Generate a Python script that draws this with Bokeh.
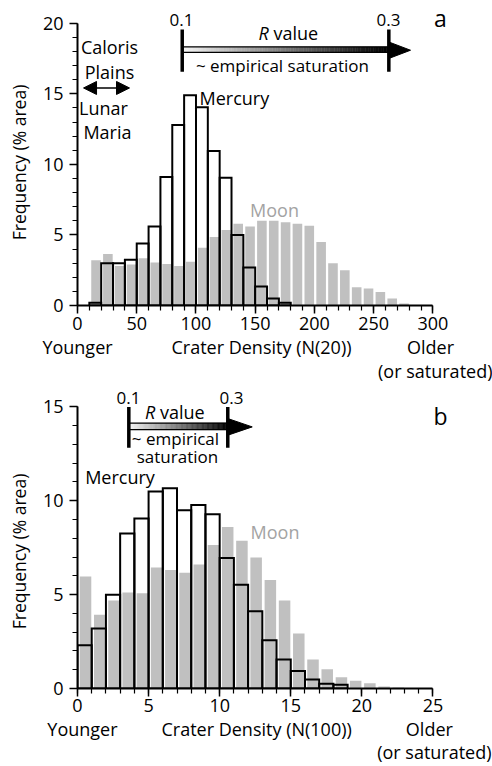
import numpy as np
from bokeh.plotting import figure
from bokeh.models import (Label, Arrow, NormalHead, SingleIntervalTicker, FixedTicker,
                          Range1d, LinearAxis)
from bokeh.layouts import column
from bokeh.embed import file_html
from bokeh.resources import INLINE

FONT = "Open Sans"
MOON_GRAY = "#c0c0c0"
MOON_TEXT = "#a3a3a3"

# ---------------- Panel a : Crater Density N(20), bins of 10 ----------------
a_bin = 10
a_moon_left = list(range(10, 280, 10))
a_moon = [3.2, 3.65, 2.8, 2.9, 3.35, 3.05, 2.95, 2.8, 3.1, 4.1, 4.85, 5.35, 5.8, 5.6,
          6.0, 6.0, 5.9, 5.8, 5.65, 4.5, 3.0, 2.5, 1.3, 1.2, 0.95, 0.5, 0.15]
a_merc_left = list(range(10, 180, 10))
a_merc = [0.2, 3.0, 3.0, 3.25, 4.4, 5.6, 9.1, 12.8, 14.9, 14.05, 10.95, 9.05, 5.0,
          2.7, 1.35, 0.5, 0.2]
a_under = {0: "Younger", 155.3: "Crater Density (N(20))", 298: "Older"}
a_under2 = {302: "(or saturated)"}
a_ytitle = {10.14: "Frequency (% area)"}

# ---------------- Panel b : Crater Density N(100), bins of 1 ----------------
b_bin = 1
b_moon_left = list(range(0, 23))
b_moon = [5.96, 3.93, 4.69, 5.11, 5.08, 6.44, 6.31, 6.17, 6.61, 7.64, 8.6, 7.87, 6.98,
          5.78, 4.69, 2.93, 1.55, 1.02, 0.6, 0.41, 0.28, 0.1, 0.05]
b_merc_left = list(range(0, 19))
b_merc = [2.31, 3.19, 4.99, 8.25, 9.05, 10.5, 10.67, 9.49, 9.77, 9.28, 6.95, 5.52, 4.11,
          2.57, 1.55, 0.93, 0.48, 0.25, 0.2]
b_under = {0.35: "Younger", 12.6: "Crater Density (N(100))", 24.75: "Older"}
b_under2 = {25.1: "(or saturated)"}
b_ytitle = {7.3: "Frequency (% area)"}


def style_axis(ax, interval, bounds, standoff):
    ax.ticker = SingleIntervalTicker(interval=interval, num_minor_ticks=5)
    ax.bounds = bounds
    ax.axis_line_width = 2
    ax.axis_line_color = "black"
    ax.major_tick_line_width = 1.5
    ax.minor_tick_line_width = 1.2
    ax.major_tick_line_color = "black"
    ax.minor_tick_line_color = "black"
    ax.major_tick_in = 0
    ax.minor_tick_in = 0
    ax.major_tick_out = 8
    ax.minor_tick_out = 5
    ax.major_label_text_font = FONT
    ax.major_label_text_font_size = "18px"
    ax.major_label_text_color = "black"
    ax.major_label_standoff = standoff


def text_axis(p, labels, standoff, side="below", size="18px", orientation="horizontal"):
    ax = LinearAxis(ticker=FixedTicker(ticks=list(labels.keys())),
                    major_label_overrides=labels,
                    axis_line_color=None, major_tick_line_color=None,
                    minor_tick_line_color=None, major_tick_out=0, major_tick_in=0,
                    minor_tick_out=0, minor_tick_in=0,
                    major_label_standoff=standoff, major_label_text_font=FONT,
                    major_label_text_font_size=size, major_label_text_color="black",
                    major_label_orientation=orientation)
    p.add_layout(ax, side)


def make_fig(height, border_bottom, x_end, y_end, xint, xbounds, yint, ybounds, xstand):
    p = figure(width=492, height=height, x_range=Range1d(0, x_end), y_range=Range1d(0, y_end),
               output_backend="svg", toolbar_location=None,
               min_border_left=77, min_border_right=0, min_border_top=0,
               min_border_bottom=border_bottom)
    p.outline_line_color = None
    p.grid.visible = False
    p.background_fill_color = "white"
    style_axis(p.xaxis[0], xint, xbounds, xstand)
    style_axis(p.yaxis[0], yint, ybounds, 6)
    return p


def bars(p, moon_left, moon, merc_left, merc, w):
    ml = np.array(moon_left, dtype=float)
    p.quad(left=ml + 0.16 * w, right=ml + 0.97 * w, bottom=0, top=moon,
           fill_color=MOON_GRAY, line_color=None)
    hl = np.array(merc_left, dtype=float)
    p.quad(left=hl, right=hl + w, bottom=0, top=merc, fill_color=None,
           line_color="black", line_width=2, line_join="miter")


def lab(p, x, y, text, size=18, color="black", align="center", style="normal"):
    p.add_layout(Label(x=x, y=y, text=text, text_font=FONT, text_font_size=f"{size}px",
                       text_color=color, text_align=align, text_baseline="middle",
                       text_font_style=style))


def rbar(p, x0, x1, yb0, yb1, ty0, ty1, tip, hy0, hy1):
    n = 80
    edges = np.linspace(x0, x1, n + 1)
    lv = np.linspace(245, 0, n).astype(int)
    cols = ["#%02x%02x%02x" % (v, v, v) for v in lv]
    p.quad(left=edges[:-1], right=edges[1:], bottom=yb0, top=yb1,
           fill_color=cols, line_color=cols, line_width=0.5)
    p.quad(left=[x0], right=[x1], bottom=[yb0], top=[yb1], fill_color=None,
           line_color="black", line_width=1.2)
    p.patch([x1, tip, x1], [hy0, (hy0 + hy1) / 2, hy1], color="black")
    p.segment(x0=[x0, x1], y0=[ty0, ty0], x1=[x0, x1], y1=[ty1, ty1],
              line_width=3.5, color="black", line_cap="butt")


# ---------------- top figure ----------------
pa = make_fig(385, 78, 350.3, 21.62, 50, (0, 300), 5, (0, 20), 3)
text_axis(pa, a_under, 2)
text_axis(pa, a_under2, -3)
text_axis(pa, a_ytitle, 8, side="left", size="17.5px", orientation="vertical")
bars(pa, a_moon_left, a_moon, a_merc_left, a_merc, a_bin)
rbar(pa, 88.4, 262.8, 17.94, 18.33, 16.57, 19.56, 281.1, 17.51, 18.68)
lab(pa, 87.8, 20.21, "0.1", size=17)
lab(pa, 262.5, 20.21, "0.3", size=17)
lab(pa, 152.8, 19.30, "R", align="left", style="italic")
lab(pa, 165.4, 19.30, "value", align="left")
lab(pa, 173.0, 17.04, "~ empirical saturation", size=17)
lab(pa, 306.4, 20.35, "a", size=23)
lab(pa, 27.0, 18.31, "Caloris")
lab(pa, 27.0, 16.55, "Plains")
lab(pa, 21.9, 14.01, "Lunar")
lab(pa, 25.3, 12.32, "Maria")
pa.add_layout(Arrow(start=NormalHead(size=13, fill_color="black", line_color="black"),
                    end=NormalHead(size=13, fill_color="black", line_color="black"),
                    x_start=5.1, y_start=15.42, x_end=43.9, y_end=15.42,
                    line_width=1.5, line_color="black"))
lab(pa, 103.0, 14.72, "Mercury", align="left")
lab(pa, 166.3, 6.76, "Moon", color=MOON_TEXT)

# ---------------- bottom figure ----------------
pb = make_fig(381, 76, 29.19, 16.14, 5, (0, 25), 5, (0, 15), 2)
text_axis(pb, b_under, 2)
text_axis(pb, b_under2, -4)
text_axis(pb, b_ytitle, 8, side="left", size="17.5px", orientation="vertical")
bars(pb, b_moon_left, b_moon, b_merc_left, b_merc, b_bin)
rbar(pb, 3.61, 10.57, 13.79, 14.14, 12.82, 14.99, 12.29, 13.49, 14.38)
lab(pb, 3.59, 15.50, "0.1", size=17)
lab(pb, 10.83, 15.50, "0.3", size=17)
lab(pb, 4.75, 14.72, "R", align="left", style="italic")
lab(pb, 5.80, 14.72, "value", align="left")
lab(pb, 6.89, 13.33, "~ empirical", size=17)
lab(pb, 7.03, 12.38, "saturation", size=17)
lab(pb, 25.53, 14.50, "b", size=23)
lab(pb, 2.99, 11.27, "Mercury")
lab(pb, 13.89, 8.31, "Moon", color=MOON_TEXT)

layout = column(pa, pb, spacing=0)
open("out.html", "w").write(file_html(layout, INLINE))
